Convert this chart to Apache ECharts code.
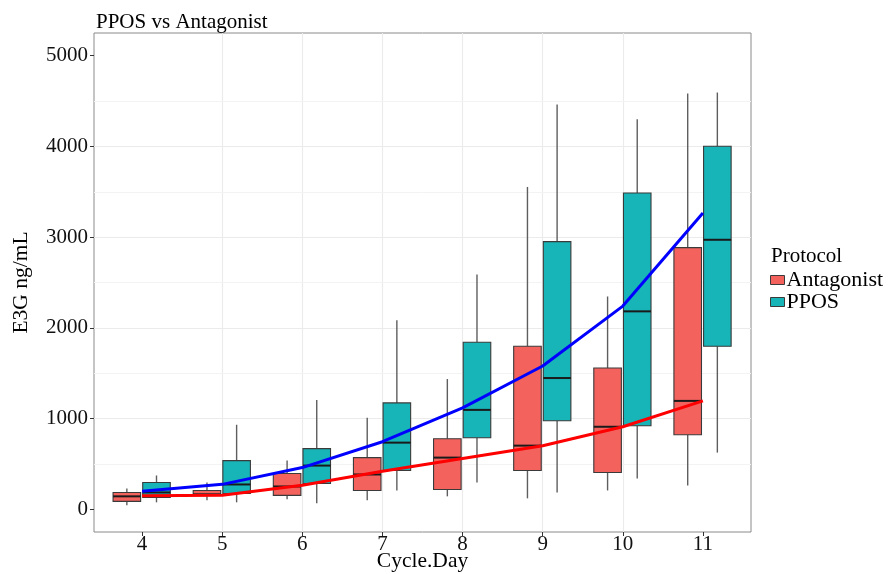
<!DOCTYPE html>
<html>
<head>
<meta charset="utf-8">
<script src="https://cdn.jsdelivr.net/npm/echarts@6/dist/echarts.min.js"></script>
<style>
html, body { margin: 0; padding: 0; background: #fff; }
#main { width: 893px; height: 574px; }
</style>
</head>
<body>
<div id="main"></div>
<script>
// cycle days on the x axis
var days = [4, 5, 6, 7, 8, 9, 10, 11];
// [low whisker, Q1, median, Q3, high whisker] per day
var antagonistBox = [
    [44, 88, 143, 186, 230],
    [99, 154, 165, 208, 296],
    [110, 154, 252, 395, 537],
    [99, 208, 384, 570, 1009],
    [143, 219, 570, 778, 1436],
    [121, 428, 702, 1798, 3553],
    [208, 406, 910, 1557, 2346],
    [263, 822, 1195, 2884, 4583]
];
var pposBox = [
    [77, 132, 186, 296, 373],
    [77, 175, 274, 537, 932],
    [66, 285, 482, 669, 1206],
    [208, 428, 735, 1173, 2083],
    [296, 789, 1096, 1842, 2588],
    [186, 976, 1447, 2950, 4463],
    [340, 921, 2182, 3487, 4298],
    [625, 1798, 2971, 4002, 4594]
];
// trend lines
var antagonistMean = [150, 155, 265, 420, 560, 700, 910, 1195];
var pposMean = [200, 275, 460, 745, 1118, 1580, 2240, 3265];
var yTicks = [0, 1000, 2000, 3000, 4000, 5000];
var yMinor = [500, 1500, 2500, 3500, 4500];

var serif = 'Liberation Serif';

function boxData(boxes) {
    return days.map(function (d, i) { return [d].concat(boxes[i]); });
}
function lineData(vals) {
    return days.map(function (d, i) { return [d, vals[i]]; });
}

// draws one box with whiskers, shifted by offset (in x units) for dodging
function boxRenderer(offset) {
    return function (params, api) {
        var x = api.value(0);
        var unit = api.size([1, 0])[0];
        var cx = api.coord([x, 0])[0] + offset * unit;
        var hw = 0.172 * unit;
        var pLow = api.coord([x, api.value(1)])[1];
        var pQ1 = api.coord([x, api.value(2)])[1];
        var pMed = api.coord([x, api.value(3)])[1];
        var pQ3 = api.coord([x, api.value(4)])[1];
        var pHigh = api.coord([x, api.value(5)])[1];
        var whisker = {stroke: '#5e5e5e', lineWidth: 1.4};
        return {
            type: 'group',
            children: [
                {type: 'line', shape: {x1: cx, y1: pHigh, x2: cx, y2: pQ3}, style: whisker},
                {type: 'line', shape: {x1: cx, y1: pQ1, x2: cx, y2: pLow}, style: whisker},
                {type: 'rect', shape: {x: cx - hw, y: pQ3, width: 2 * hw, height: pQ1 - pQ3},
                    style: {fill: api.visual('color'), stroke: '#3a3a3a', lineWidth: 1.1}},
                {type: 'line', shape: {x1: cx - hw, y1: pMed, x2: cx + hw, y2: pMed},
                    style: {stroke: '#1a1a1a', lineWidth: 2}}
            ]
        };
    };
}

var myChart = echarts.init(document.getElementById('main'));
var option = {
    animation: false,
    backgroundColor: '#fff',
    title: [
        {text: 'PPOS vs Antagonist', left: 91, top: 7,
            textStyle: {fontFamily: serif, fontSize: 21, fontWeight: 'normal', color: '#000'}},
        {text: 'Protocol', left: 766, top: 241,
            textStyle: {fontFamily: serif, fontSize: 21, fontWeight: 'normal', color: '#000'}}
    ],
    legend: {
        orient: 'vertical',
        left: 770,
        top: 269,
        padding: 0,
        itemWidth: 14,
        itemHeight: 9,
        itemGap: 0,
        icon: 'rect',
        itemStyle: {borderColor: '#3a3a3a', borderWidth: 1},
        textStyle: {fontFamily: serif, fontSize: 22, lineHeight: 22, color: '#000', padding: [0, 0, 0, -3]},
        data: ['Antagonist', 'PPOS']
    },
    grid: {
        left: 94, right: 142, top: 33, bottom: 42,
        outerBoundsMode: 'none',
        containLabel: false,
        show: true, borderColor: '#8a8a8a', borderWidth: 1, backgroundColor: 'transparent'
    },
    xAxis: {
        type: 'value',
        min: 3.4,
        max: 11.6,
        splitNumber: 8,
        name: 'Cycle.Day',
        nameLocation: 'middle',
        nameGap: 18,
        nameMoveOverlap: false,
        nameTextStyle: {fontFamily: serif, fontSize: 21.5, color: '#000'},
        axisLine: {show: false, onZero: false},
        axisTick: {show: true, length: 4, customValues: days, lineStyle: {color: '#333'}},
        axisLabel: {customValues: days, margin: 2, fontFamily: serif, fontSize: 21, color: '#111'},
        splitLine: {show: true, showMinLine: false, showMaxLine: false,
            lineStyle: {color: '#EBEBEB', width: 1.1}}
    },
    yAxis: {
        type: 'value',
        min: -250,
        max: 5250,
        splitNumber: 5,
        name: 'E3G ng/mL',
        nameLocation: 'middle',
        nameGap: 62,
        nameRotate: 90,
        nameMoveOverlap: false,
        nameTextStyle: {fontFamily: serif, fontSize: 21.5, color: '#000'},
        axisLine: {show: false, onZero: false},
        axisTick: {show: true, length: 4, customValues: yTicks, lineStyle: {color: '#333'}},
        axisLabel: {customValues: yTicks, margin: 6, fontFamily: serif, fontSize: 21, color: '#111',
            formatter: function (v) { return String(v); }},
        splitLine: {show: true, showMinLine: false, showMaxLine: false,
            lineStyle: {color: '#EBEBEB', width: 1.1}}
    },
    series: [
        {
            name: 'Antagonist',
            type: 'custom',
            z: 3,
            itemStyle: {color: '#F4625E'},
            encode: {x: 0, y: [1, 2, 3, 4, 5]},
            renderItem: boxRenderer(-0.19),
            data: boxData(antagonistBox)
        },
        {
            name: 'PPOS',
            type: 'custom',
            z: 3,
            itemStyle: {color: '#17B4B8'},
            encode: {x: 0, y: [1, 2, 3, 4, 5]},
            renderItem: boxRenderer(0.18),
            data: boxData(pposBox)
        },
        {
            name: 'minor',
            type: 'line',
            z: 1,
            data: [],
            markLine: {
                silent: true,
                z: 1,
                symbol: 'none',
                label: {show: false},
                lineStyle: {color: '#F3F3F3', width: 1, type: 'solid'},
                data: yMinor.map(function (v) { return {yAxis: v}; })
            }
        },
        {
            name: 'Antagonist',
            type: 'line',
            z: 4,
            symbol: 'none',
            lineStyle: {color: '#FF0000', width: 3},
            itemStyle: {color: '#FF0000'},
            data: lineData(antagonistMean)
        },
        {
            name: 'PPOS',
            type: 'line',
            z: 4,
            symbol: 'none',
            lineStyle: {color: '#0000FF', width: 3},
            itemStyle: {color: '#0000FF'},
            data: lineData(pposMean)
        }
    ]
};
myChart.setOption(option);
</script>
</body>
</html>
